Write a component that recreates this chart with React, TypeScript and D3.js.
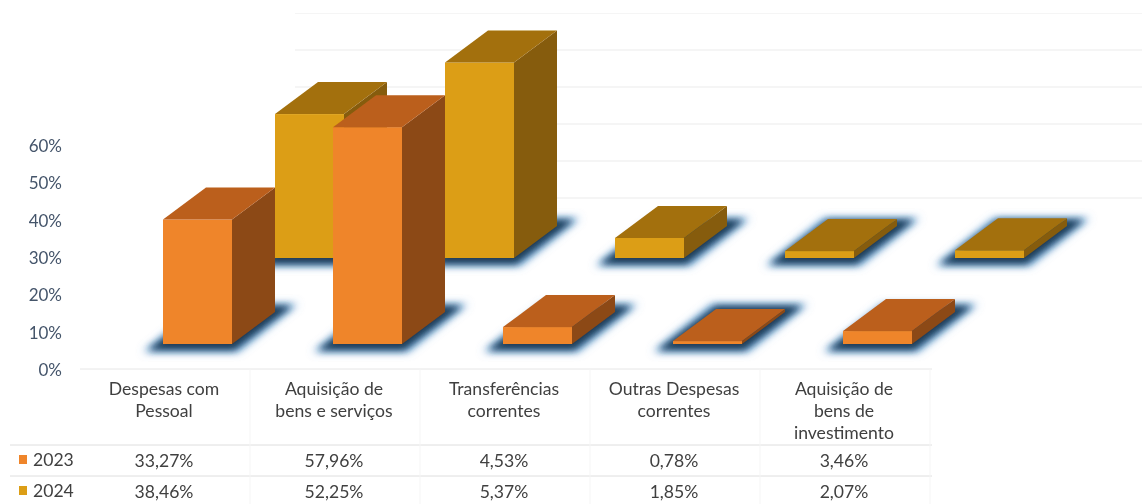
import React from "react";
import * as d3 from "d3";

const categories = [
  ["Despesas com", "Pessoal"],
  ["Aquisição de", "bens e serviços"],
  ["Transferências", "correntes"],
  ["Outras Despesas", "correntes"],
  ["Aquisição de", "bens de", "investimento"],
];
const years = ["2023", "2024"];
const values2023 = [33.27, 57.96, 4.53, 0.78, 3.46];
const values2024 = [38.46, 52.25, 5.37, 1.85, 2.07];
const yTicks = [0, 10, 20, 30, 40, 50, 60];
const gridTicks = [0, 10, 20, 30, 40, 50];

const W = 1142, H = 504;
const FONT = "Lato, 'Open Sans', sans-serif";
const x = d3.scaleLinear().domain([0, 5]).range([163, 1013]);
const sep = d3.scaleLinear().domain([0, 5]).range([80, 930]);
const barW = 69, dx = 43, dy = -32;
const h = d3.scaleLinear().domain([0, 60]).range([0, 224.5]);
const axisY = d3.scaleLinear().domain([0, 60]).range([370, 146]);
const gridY = d3.scaleLinear().domain([0, 50]).range([198, 13]);

const series = [
  { values: values2024, base: 258, ox: 112, face: "#dc9e12", top: "#a3700c", side: "#865c0b" },
  { values: values2023, base: 344, ox: 0, face: "#ef852b", top: "#bb5f1c", side: "#8c4815" },
];
const poly = (p: number[][]) => d3.line()(p as [number, number][])! + "Z";

export default function App() {
  return (
    <svg width={W} height={H} style={{ position: "absolute", left: 0, top: 0, background: "#fff" }}>
      <defs>
        <filter id="sh1" x="-30%" y="-60%" width="160%" height="220%"><feGaussianBlur stdDeviation="4" /></filter>
        <filter id="sh2" x="-30%" y="-60%" width="160%" height="220%"><feGaussianBlur stdDeviation="3.5" /></filter>
        <filter id="soft" x="0" y="0" width="100%" height="100%"><feGaussianBlur stdDeviation="0.5" /></filter>
      </defs>
      <g filter="url(#soft)">
        {gridTicks.map((t) => (
          <line key={t} x1={295} x2={1142} y1={gridY(t)} y2={gridY(t)} stroke="#ececec" strokeWidth={1.1} />
        ))}
        {series.map((s, si) => (
          <g key={si}>
            {s.values.map((_, i) => {
              const x0 = x(i) + s.ox;
              const b = s.base;
              return (
                <g key={i}>
                  <path d={poly([[x0 - 20, b + 8], [x0 + barW + 6, b + 8], [x0 + barW + dx + 23, b + dy - 8], [x0 + dx - 4, b + dy - 8]])} fill="#6ba6da" filter="url(#sh1)" />
                  <path d={poly([[x0 - 15, b + 6], [x0 + barW + 2, b + 6], [x0 + barW + dx + 17, b + dy - 6], [x0 + dx, b + dy - 6]])} fill="#1f3a55" filter="url(#sh2)" />
                </g>
              );
            })}
            {s.values.map((v, i) => {
              const x0 = x(i) + s.ox;
              const b = s.base;
              const t = b - h(v);
              return (
                <g key={i}>
                  <rect x={x0} y={t} width={barW} height={b - t} fill={s.face} />
                  <path d={poly([[x0 + barW, t], [x0 + barW + dx, t + dy], [x0 + barW + dx, b + dy], [x0 + barW, b]])} fill={s.side} />
                  <path d={poly([[x0, t], [x0 + dx, t + dy], [x0 + barW + dx, t + dy], [x0 + barW, t]])} fill={s.top} />
                </g>
              );
            })}
          </g>
        ))}
        {yTicks.map((t) => (
          <text key={t} x={62} y={axisY(t)} dy="0.35em" textAnchor="end" fontFamily={FONT} fontSize={17} fill="#44546a">{t}%</text>
        ))}
        <line x1={80} x2={932} y1={369} y2={369} stroke="#e6e6e6" />
        <line x1={10} x2={932} y1={445} y2={445} stroke="#dedede" />
        <line x1={10} x2={932} y1={476} y2={476} stroke="#dedede" />
        {d3.range(1, 6).map((i) => (
          <line key={i} x1={sep(i)} x2={sep(i)} y1={369} y2={504} stroke="#f5f5f5" />
        ))}
        {categories.map((c, i) => (
          <text key={i} textAnchor="middle" fontFamily={FONT} fontSize={17.6} fill="#404040">
            {c.map((l, j) => (
              <tspan key={j} x={164 + i * 170} y={395 + j * 22}>{l}</tspan>
            ))}
          </text>
        ))}
        {years.map((yr, r) => {
          const ry = 461 + r * 31;
          const vals = r === 0 ? values2023 : values2024;
          return (
            <g key={yr}>
              <rect x={19} y={ry - 6} width={8} height={9} fill={series[1 - r].face} />
              <text x={33} y={ry - 1} dy="0.35em" fontFamily={FONT} fontSize={17.6} fill="#404040">{yr}</text>
              {vals.map((v, i) => (
                <text key={i} x={164 + i * 170} y={ry} dy="0.35em" textAnchor="middle" fontFamily={FONT} fontSize={17.6} fill="#404040">
                  {v.toFixed(2).replace(".", ",")}%
                </text>
              ))}
            </g>
          );
        })}
      </g>
    </svg>
  );
}
